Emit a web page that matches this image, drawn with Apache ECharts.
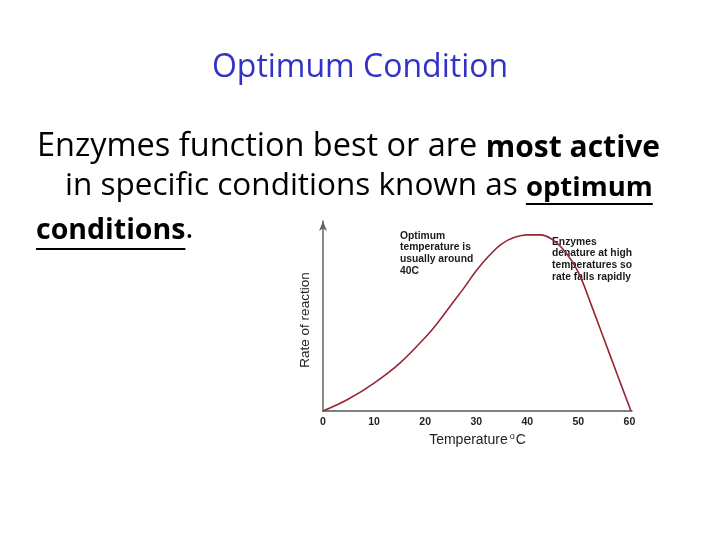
<!DOCTYPE html>
<html><head><meta charset="utf-8">
<script src="https://cdn.jsdelivr.net/npm/echarts@6/dist/echarts.min.js"></script>
<style>html,body{margin:0;padding:0;background:#fff}#c{width:720px;height:539px}</style>
</head><body><div id="c"></div>
<script>
// ---- data ----
const temperature = [0, 5, 10, 15, 20, 22.5, 25, 27.5, 30, 32.5, 35, 37.5, 40, 42.5, 45, 47.5, 50, 52.5, 55, 57.5, 60.3];
const rate = [0, 6.3, 14.7, 25.1, 38.7, 46.6, 55.5, 64.4, 73.8, 81.7, 88, 91.4, 92.7, 92.7, 90.1, 83.5, 73, 56, 38, 20, 0];
const xTicks = [0, 10, 20, 30, 40, 50, 60];
const titleText = 'Optimum Condition';
const line1Plain = 'Enzymes function best or are ';
const line1Bold = 'most active';
const line2Plain = 'in specific conditions known as ';
const line2Bold = 'optimum';
const line3Bold = 'conditions';
const line3Tail = '.';
const note1 = ['Optimum', 'temperature is', 'usually around', '40C'];
const note2 = ['Enzymes', 'denature at high', 'temperatures so', 'rate falls rapidly'];
const xName = 'Temperature';
const yName = 'Rate of reaction';

// ---- layout ----
const FAM = '"Comic Sans MS", "Open Sans", sans-serif';
const AR = 'Arial, "Liberation Sans", sans-serif';
const ctx = document.createElement('canvas').getContext('2d');
function w(txt, size, bold) { ctx.font = (bold ? 'bold ' : '') + size + 'px ' + FAM; return ctx.measureText(txt).width; }

const L1 = { x: 37, y: 147, n: 32.5, b: 30 };
const L2 = { x: 65, y: 186, n: 31.5, b: 27.5 };
const L3 = { x: 36, y: 229, n: 31.5, b: 28.5 };
const u2x = L2.x + w(line2Plain, L2.n, false), u2w = w(line2Bold, L2.b, true);
const u3w = w(line3Bold, L3.b, true);

function rich(L) {
  return {
    n: { fontSize: L.n, fontFamily: FAM, fill: '#000', verticalAlign: 'bottom' },
    b: { fontSize: L.b, fontFamily: FAM, fontWeight: 'bold', fill: '#000', verticalAlign: 'bottom' }
  };
}
const noteFont = { fontSize: 10.3, fontWeight: 'bold', fontFamily: AR, fill: '#1a1a1a', lineHeight: 11.7 };

const chart = echarts.init(document.getElementById('c'), null, { renderer: 'canvas' });
chart.setOption({
  animation: false,
  backgroundColor: '#fff',
  grid: { left: 323, right: 88, top: 221, bottom: 128 },
  xAxis: {
    type: 'value', min: 0, max: 60.5, interval: 10,
    axisLine: { show: true, lineStyle: { color: '#555', width: 1.5 } },
    axisTick: { show: false },
    splitLine: { show: false },
    axisLabel: {
      margin: 6, fontSize: 10.5, fontWeight: 'bold', color: '#222', fontFamily: AR,
      formatter: v => (xTicks.indexOf(v) >= 0 ? String(v) : '')
    },
    name: '{a|' + xName + '}{s|o}{a|C}',
    nameLocation: 'middle', nameGap: 21,
    nameTextStyle: {
      rich: {
        a: { fontSize: 14, fontFamily: AR, color: '#222' },
        s: { fontSize: 9, fontFamily: AR, color: '#222', verticalAlign: 'top', padding: [0, 1, 7, 2] }
      }
    }
  },
  yAxis: {
    type: 'value', min: 0, max: 100,
    axisLine: { show: true, symbol: ['none', 'arrow'], symbolSize: [6, 10], lineStyle: { color: '#666', width: 1.5 } },
    axisTick: { show: false },
    splitLine: { show: false },
    axisLabel: { show: false },
    name: yName, nameLocation: 'middle', nameGap: 11, nameRotate: 90,
    nameTextStyle: { fontSize: 13.5, fontFamily: AR, color: '#222', padding: [0, 8, 0, 0] }
  },
  series: [{
    type: 'line',
    data: temperature.map((t, i) => [t, rate[i]]),
    smooth: 0.4,
    showSymbol: false,
    lineStyle: { color: '#962633', width: 1.6 }
  }],
  graphic: [
    { type: 'text', style: { text: titleText, x: 360, y: 68, textAlign: 'center', textVerticalAlign: 'middle', fontSize: 32, fontFamily: FAM, fill: '#3232c8' } },
    { type: 'text', style: { text: '{n|' + line1Plain + '}{b|' + line1Bold + '}', x: L1.x, y: L1.y, textVerticalAlign: 'middle', rich: rich(L1) } },
    { type: 'text', style: { text: '{n|' + line2Plain + '}{b|' + line2Bold + '}', x: L2.x, y: L2.y, textVerticalAlign: 'middle', rich: rich(L2) } },
    { type: 'text', style: { text: '{b|' + line3Bold + '}{n|' + line3Tail + '}', x: L3.x, y: L3.y, textVerticalAlign: 'middle', rich: rich(L3) } },
    { type: 'line', shape: { x1: u2x, y1: 204, x2: u2x + u2w, y2: 204 }, style: { stroke: '#000', lineWidth: 2.2 } },
    { type: 'line', shape: { x1: L3.x, y1: 249, x2: L3.x + u3w, y2: 249 }, style: { stroke: '#000', lineWidth: 2.2 } },
    { type: 'text', style: Object.assign({ text: note1.join('\n'), x: 400, y: 230, textVerticalAlign: 'top' }, noteFont) },
    { type: 'text', style: Object.assign({ text: note2.join('\n'), x: 552, y: 236, textVerticalAlign: 'top' }, noteFont) }
  ]
});
</script>
</body></html>
